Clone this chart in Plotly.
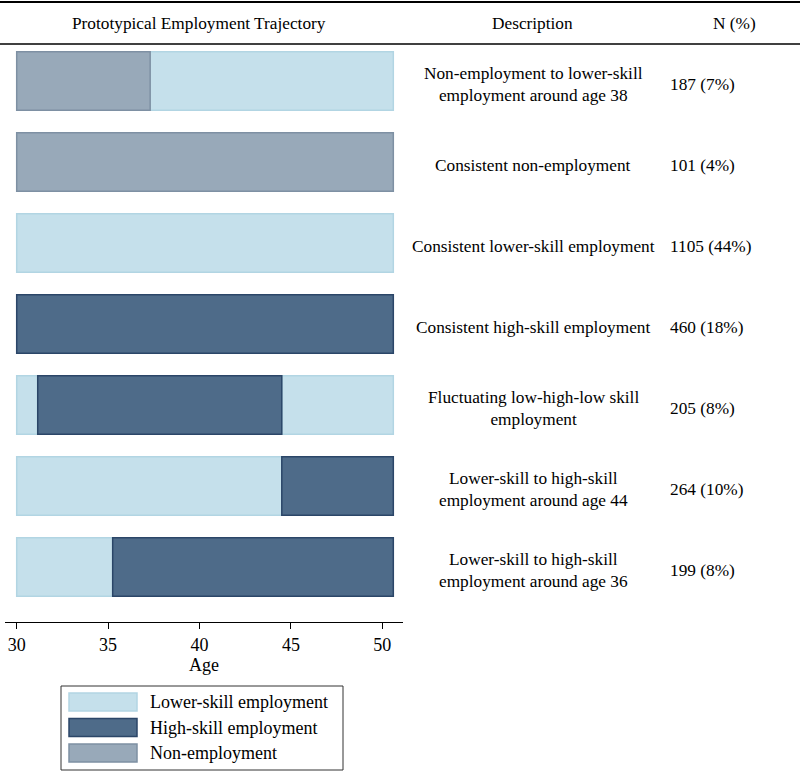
import plotly.graph_objects as go

# ---------------- data ----------------
descriptions = [
    "Non-employment to lower-skill<br>employment around age 38",
    "Consistent non-employment",
    "Consistent lower-skill employment",
    "Consistent high-skill employment",
    "Fluctuating low-high-low skill<br>employment",
    "Lower-skill to high-skill<br>employment around age 44",
    "Lower-skill to high-skill<br>employment around age 36",
]
n_labels = ["187 (7%)", "101 (4%)", "1105 (44%)", "460 (18%)", "205 (8%)", "264 (10%)", "199 (8%)"]

# segments of each trajectory: row index, state, start age, end age
seg_row   = [0, 0, 1, 2, 3, 4, 4, 4, 5, 5, 6, 6]
seg_state = ["non", "low", "non", "low", "high", "low", "high", "low", "low", "high", "low", "high"]
seg_start = [30, 37.3, 30, 30, 30, 30, 31.15, 44.5, 30, 44.5, 30, 35.25]
seg_end   = [37.3, 50.6, 50.6, 50.6, 50.6, 31.15, 44.5, 50.6, 44.5, 50.6, 35.25, 50.6]

states = ["low", "high", "non"]
state_names = {"low": "Lower-skill employment", "high": "High-skill employment", "non": "Non-employment"}
x_ticks = [30, 35, 40, 45, 50]

# ---------------- style ----------------
fill = {"low": "#c5e0eb", "high": "#4e6b89", "non": "#98a9b9"}
edge = {"low": "#b2d5e3", "high": "#2b4668", "non": "#7e90a3"}
FONT = "Liberation Serif"
TXT = 17.3

W, H = 800, 774
L, R, T, B = 5, 397, 44, 152
pw, ph = W - L - R, H - T - B

def px(x):
    return (x - L) / pw

def py(y):
    return (H - B - y) / ph

fig = go.Figure()
for s in states:
    idx = [i for i in range(len(seg_row)) if seg_state[i] == s]
    fig.add_trace(go.Bar(
        orientation="h",
        y=[seg_row[i] for i in idx],
        base=[seg_start[i] for i in idx],
        x=[seg_end[i] - seg_start[i] for i in idx],
        width=0.72,
        marker=dict(color=fill[s], line=dict(color=edge[s], width=1.5)),
        name=state_names[s],
        showlegend=False,
    ))

annotations = []
shapes = []

# header
shapes.append(dict(type="line", xref="paper", yref="paper", x0=px(0), x1=px(W), y0=py(2), y1=py(2),
                   line=dict(color="black", width=2)))
shapes.append(dict(type="line", xref="paper", yref="paper", x0=px(0), x1=px(W), y0=py(44), y1=py(44),
                   line=dict(color="black", width=1.5)))
for txt, cx in [("Prototypical Employment Trajectory", 199), ("Description", 532), ("N (%)", 734)]:
    annotations.append(dict(text=txt, xref="paper", yref="paper", x=px(cx), y=py(23),
                            showarrow=False, xanchor="center", yanchor="middle",
                            font=dict(family=FONT, size=TXT, color="black")))

for i, (d, n) in enumerate(zip(descriptions, n_labels)):
    annotations.append(dict(text=d, xref="paper", yref="y", x=px(533), y=i, yshift=-3, showarrow=False,
                            xanchor="center", yanchor="middle", align="center",
                            font=dict(family=FONT, size=TXT, color="black")))
    annotations.append(dict(text=n, xref="paper", yref="y", x=px(668), y=i, yshift=-3, showarrow=False,
                            xanchor="left", yanchor="middle",
                            font=dict(family=FONT, size=TXT, color="black")))

# legend (drawn)
shapes.append(dict(type="rect", xref="paper", yref="paper", x0=px(61), x1=px(343), y0=py(686), y1=py(770),
                   line=dict(color="#333333", width=1), fillcolor="white"))
for k, s in enumerate(states):
    y0 = 693 + k * 25.5
    shapes.append(dict(type="rect", xref="paper", yref="paper", x0=px(69), x1=px(137), y0=py(y0), y1=py(y0 + 18),
                       line=dict(color=edge[s], width=1.5), fillcolor=fill[s]))
    annotations.append(dict(text=state_names[s], xref="paper", yref="paper", x=px(148), y=py(y0 + 9),
                            showarrow=False, xanchor="left", yanchor="middle",
                            font=dict(family=FONT, size=18, color="black")))

fig.update_layout(
    width=W, height=H,
    margin=dict(l=L, r=R, t=T, b=B, pad=0),
    plot_bgcolor="white", paper_bgcolor="white",
    barmode="overlay",
    showlegend=False,
    shapes=shapes,
    annotations=annotations,
    font=dict(family=FONT, size=18, color="black"),
    xaxis=dict(range=[29.36, 51.13], tickvals=x_ticks, ticks="outside", ticklen=6, tickcolor="black",
               showline=True, linecolor="black", linewidth=1, showgrid=False, zeroline=False,
               tickfont=dict(family=FONT, size=18, color="black"),
               title=dict(text="Age", standoff=0, font=dict(family=FONT, size=18, color="black"))),
    yaxis=dict(range=[6.679, -0.457], visible=False, showgrid=False, zeroline=False),
)

fig.write_html("out.html", config={"displayModeBar": False},
               post_script="document.body.style.margin='0px';document.body.style.overflow='hidden';")
